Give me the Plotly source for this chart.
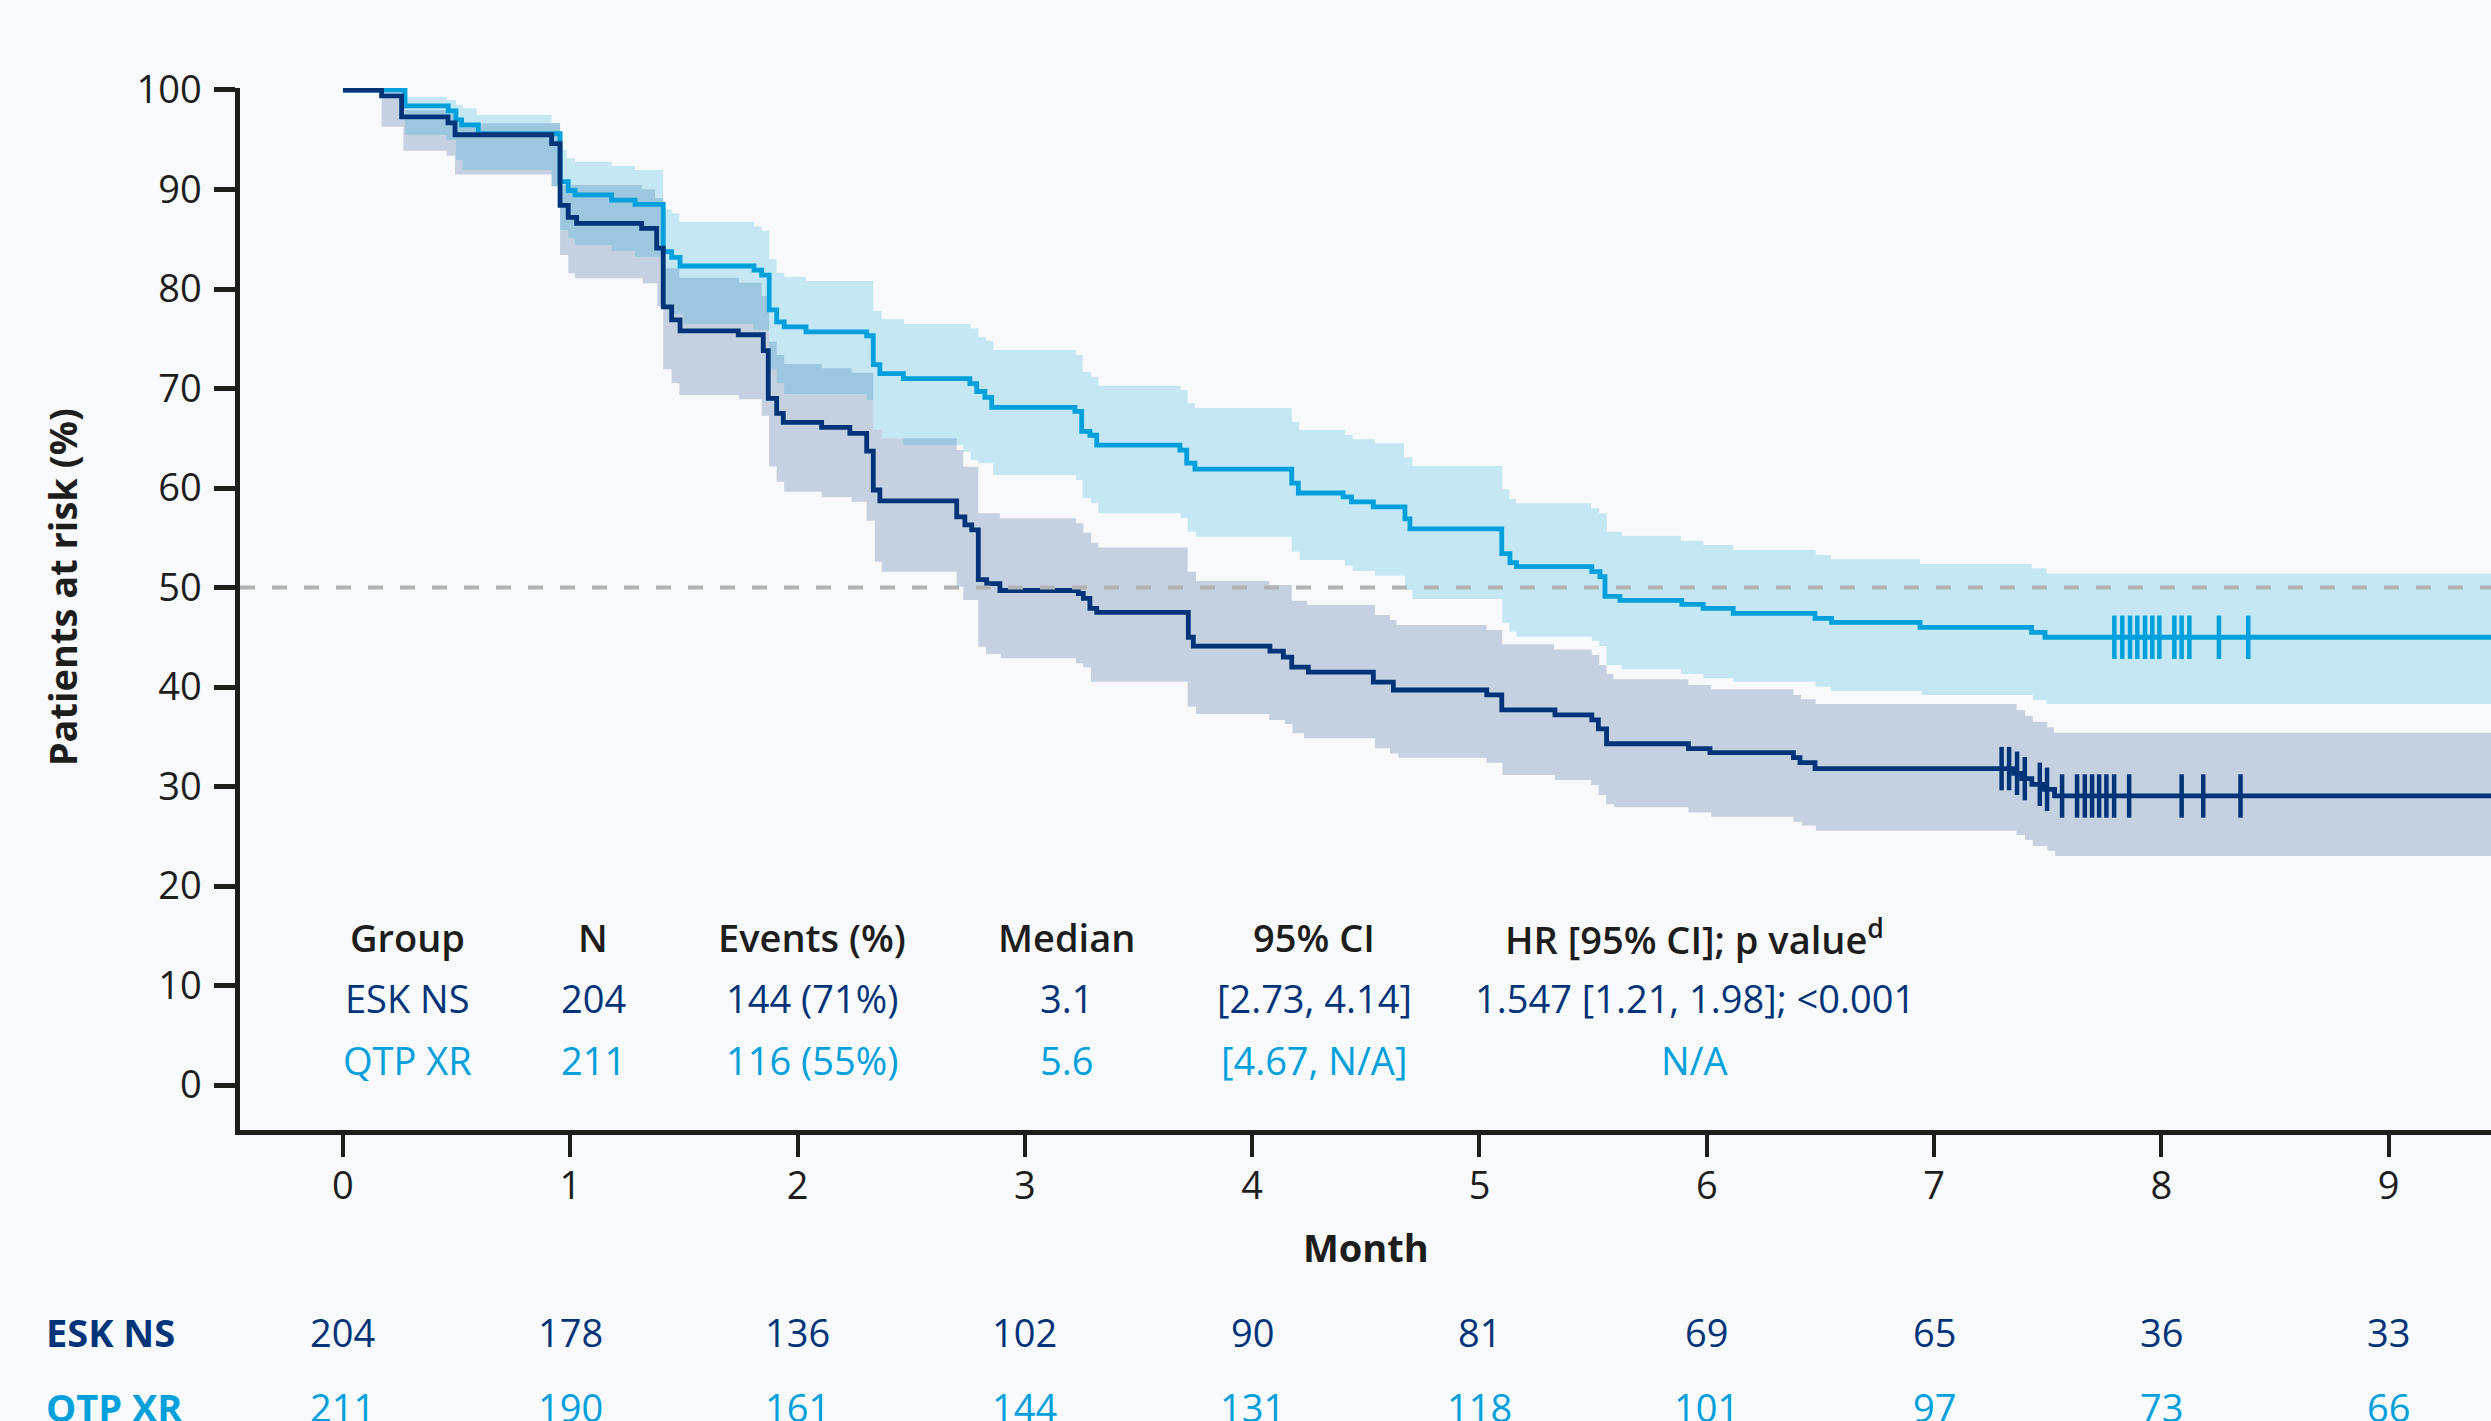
import plotly.graph_objects as go

# ---------------- data ----------------
MONTH_TICKS = list(range(0, 10))
PCT_TICKS = list(range(0, 101, 10))
X_END = 9.6

# Kaplan-Meier step curves (step start month, % at risk)
esk_t = [0, 0.17, 0.258, 0.462, 0.493, 0.918, 0.955, 0.991, 1.028, 1.314, 1.38, 1.409, 1.446, 1.483,
         1.739, 1.849, 1.871, 1.908, 1.937, 2.106, 2.23, 2.304, 2.333, 2.362, 2.70, 2.736, 2.766, 2.795,
         2.832, 2.89, 3.235, 3.257, 3.286, 3.316, 3.719, 3.741, 4.078, 4.137, 4.174, 4.247, 4.533, 4.621,
         5.032, 5.098, 5.332, 5.494, 5.523, 5.559, 5.919, 6.014, 6.381, 6.41, 6.476, 7.35, 7.385, 7.43,
         7.48, 7.53]
esk_s = [100, 99.4, 97.3, 96.7, 95.5, 94.6, 88.4, 87.2, 86.6, 86.1, 84.1, 78.2, 76.9, 75.8,
         75.4, 73.8, 69.0, 67.5, 66.6, 66.1, 65.5, 63.7, 59.8, 58.7, 57.1, 56.3, 55.8, 50.8,
         50.4, 49.7, 49.4, 48.9, 47.9, 47.5, 45.0, 44.1, 43.6, 43.0, 42.0, 41.5, 40.5, 39.7,
         39.2, 37.7, 37.2, 36.7, 35.8, 34.3, 33.8, 33.4, 32.9, 32.4, 31.8, 31.33, 30.79, 30.22,
         29.72, 29.05]

qtp_t = [0, 0.273, 0.463, 0.497, 0.522, 0.595, 0.955, 0.991, 1.021, 1.182, 1.285, 1.409, 1.446, 1.483,
         1.808, 1.842, 1.875, 1.908, 1.941, 2.037, 2.304, 2.333, 2.362, 2.465, 2.758, 2.788, 2.824,
         2.854, 3.22, 3.25, 3.286, 3.316, 3.682, 3.712, 3.748, 4.174, 4.203, 4.4, 4.437, 4.533, 4.672,
         4.694, 5.098, 5.134, 5.163, 5.494, 5.53, 5.552, 5.618, 5.89, 5.984, 6.116, 6.476, 6.549,
         6.938, 7.429, 7.488]
qtp_s = [100, 98.4, 97.9, 97.0, 96.5, 95.6, 90.8, 89.9, 89.45, 88.94, 88.5, 83.75, 83.18, 82.31,
         81.9, 81.4, 77.9, 76.7, 76.2, 75.7, 75.3, 72.4, 71.5, 71.0, 70.5, 69.7, 69.1,
         68.1, 67.7, 65.7, 65.3, 64.3, 63.8, 62.5, 61.9, 60.5, 59.5, 59.1, 58.6, 58.1, 56.9,
         55.9, 53.4, 52.5, 52.1, 51.6, 51.1, 49.1, 48.7, 48.3, 47.9, 47.4, 46.9, 46.5,
         46.0, 45.5, 45.0]

# 95% confidence bands (step start month, bound %)
esk_hi_t = [0.170, 0.273, 0.456, 0.497, 0.955, 1.314, 1.373, 1.409, 1.480, 1.742, 1.842, 1.875, 1.908,
            1.941, 2.106, 2.238, 2.333, 2.370, 2.7, 2.729, 2.795, 2.890, 3.225, 3.257, 3.291, 3.323,
            3.716, 3.753, 4.075, 4.174, 4.242, 4.540, 4.606, 4.635, 5.031, 5.100, 5.328, 5.494, 5.527,
            5.559, 5.589, 5.919, 6.019, 6.381, 6.414, 6.479, 7.363, 7.400, 7.434, 7.498, 7.527]
esk_hi = [99.6, 97.99, 97.65, 96.65, 90.45, 90.02, 89.11, 82.08, 81.14, 80.64, 79.3, 74.71, 73.37,
          72.46, 72.03, 71.59, 65.83, 64.99, 63.82, 62.14, 57.46, 56.95, 56.45, 55.51, 54.5, 54.03,
          51.59, 50.65, 50.25, 48.68, 48.24, 47.24, 46.73, 46.23, 45.73, 44.29, 43.78, 43.22, 42.21,
          41.31, 40.77, 40.2, 39.77, 39.2, 38.76, 38.29, 37.69, 37.12, 36.52, 35.95, 35.41]
esk_lo_t = [0.170, 0.266, 0.456, 0.493, 0.918, 0.955, 0.991, 1.021, 1.318, 1.383, 1.409, 1.446, 1.480,
            1.742, 1.842, 1.875, 1.908, 1.941, 2.106, 2.238, 2.304, 2.340, 2.370, 2.7, 2.729, 2.795,
            2.829, 2.894, 3.225, 3.257, 3.291, 3.716, 3.753, 4.075, 4.144, 4.178, 4.228, 4.540, 4.606,
            4.643, 5.031, 5.101, 5.332, 5.491, 5.524, 5.557, 5.593, 5.919, 6.019, 6.381, 6.418, 6.480,
            7.363, 7.400, 7.434, 7.498, 7.533]
esk_lo = [96.3, 93.9, 93.4, 91.5, 90.3, 83.42, 81.58, 81.07, 80.57, 78.29, 71.93, 70.52, 69.35,
          68.91, 67.27, 62.15, 60.64, 59.63, 59.06, 58.63, 56.72, 52.6, 51.59, 50.08, 48.74, 44.05,
          43.32, 42.88, 42.38, 41.98, 40.54, 38.02, 37.29, 36.68, 36.28, 35.35, 34.84, 33.84, 33.33,
          32.9, 32.4, 31.16, 30.65, 30.15, 29.15, 28.21, 27.91, 27.4, 26.97, 26.47, 26.07, 25.56,
          25.13, 24.62, 24.02, 23.55, 23.02]

qtp_hi_t = [0.273, 0.456, 0.497, 0.527, 0.588, 0.918, 0.955, 0.984, 1.021, 1.182, 1.285, 1.409, 1.446,
            1.480, 1.808, 1.842, 1.875, 1.908, 1.941, 2.037, 2.333, 2.370, 2.468, 2.761, 2.795, 2.829,
            2.861, 3.225, 3.254, 3.291, 3.323, 3.685, 3.716, 3.748, 4.174, 4.207, 4.408, 4.442, 4.540,
            4.668, 4.705, 5.100, 5.131, 5.161, 5.491, 5.527, 5.560, 5.626, 5.886, 5.985, 6.117, 6.479,
            6.546, 6.938, 7.429, 7.495]
qtp_hi = [99.33, 98.99, 98.49, 98.16, 97.49, 96.72, 93.97, 93.13, 92.8, 92.36, 91.96, 88.0, 87.6,
          86.77, 86.27, 85.86, 82.98, 81.64, 81.24, 80.8, 77.79, 76.95, 76.48, 76.05, 75.14, 74.81,
          73.87, 73.37, 71.69, 71.19, 70.28, 69.85, 68.51, 68.04, 66.67, 65.83, 65.33, 64.89, 64.49,
          63.08, 62.21, 59.87, 58.89, 58.46, 57.96, 57.46, 55.61, 55.21, 54.71, 54.27, 53.77, 53.27,
          52.83, 52.36, 51.93, 51.42]
qtp_lo_t = [0.273, 0.456, 0.497, 0.527, 0.918, 0.955, 0.991, 1.021, 1.182, 1.285, 1.409, 1.446, 1.497,
            1.805, 1.875, 1.908, 1.941, 2.304, 2.333, 2.370, 2.465, 2.729, 2.761, 2.795, 2.861, 3.225,
            3.254, 3.291, 3.323, 3.685, 3.716, 3.753, 4.174, 4.210, 4.408, 4.442, 4.540, 4.672, 4.705,
            5.100, 5.131, 5.163, 5.494, 5.527, 5.559, 5.625, 5.886, 5.985, 6.117, 6.479, 6.546, 6.945,
            7.434, 7.495]
qtp_lo = [95.48, 94.97, 92.96, 91.96, 90.35, 85.93, 85.09, 84.42, 83.82, 83.25, 77.96, 77.49, 76.48,
          75.88, 71.93, 70.52, 69.45, 68.84, 65.83, 64.99, 64.32, 63.65, 62.81, 62.48, 61.31, 60.8,
          58.96, 58.46, 57.46, 56.95, 55.61, 55.11, 53.6, 52.76, 52.19, 51.66, 51.19, 49.75, 48.84,
          46.47, 45.56, 45.06, 44.66, 44.12, 42.21, 41.78, 41.31, 40.87, 40.54, 40.03, 39.6, 39.2,
          38.69, 38.29]

# censored observations (months)
esk_censor = [7.297, 7.330, 7.365, 7.399, 7.465, 7.497, 7.563, 7.629, 7.663, 7.695, 7.726, 7.758,
              7.792, 7.858, 8.089, 8.184, 8.348]
qtp_censor = [7.793, 7.828, 7.862, 7.894, 7.928, 7.960, 7.991, 8.057, 8.089, 8.123, 8.253, 8.382]

# summary table
groups = ["ESK NS", "QTP XR"]
group_n = ["204", "211"]
group_events = ["144 (71%)", "116 (55%)"]
group_median = ["3.1", "5.6"]
group_ci = ["[2.73, 4.14]", "[4.67, N/A]"]
group_hr = ["1.547 [1.21, 1.98]; <0.001", "N/A"]
table_header = ["Group", "N", "Events (%)", "Median", "95% CI", "HR [95% CI]; p value<sup>d</sup>"]

# numbers at risk
risk_months = list(range(0, 10))
esk_risk = [204, 178, 136, 102, 90, 81, 69, 65, 36, 33]
qtp_risk = [211, 190, 161, 144, 131, 118, 101, 97, 73, 66]

# ---------------- style ----------------
NAVY = "#003478"
LIGHT = "#00A0DC"
NAVY_FILL = "rgba(0,52,120,0.2)"
LIGHT_FILL = "rgba(0,160,220,0.2)"
INK = "#1D1D1B"
BG = "#F7F9FB"
FONT = "Open Sans"
FS = 38
LW = 4.8


def expand(t, s, t_end):
    xs, ys = [], []
    for i in range(len(t)):
        nxt = t[i + 1] if i + 1 < len(t) else t_end
        xs += [t[i], nxt]
        ys += [s[i], s[i]]
    return xs, ys


def value_at(t, s, x):
    v = s[0]
    for ti, si in zip(t, s):
        if ti <= x:
            v = si
    return v


def band(t_hi, hi, t_lo, lo):
    ux, uy = expand(t_hi, hi, X_END)
    lx, ly = expand(t_lo, lo, X_END)
    return ux + lx[::-1], uy + ly[::-1]


fig = go.Figure()

bx, by = band(esk_hi_t, esk_hi, esk_lo_t, esk_lo)
fig.add_trace(go.Scatter(x=bx, y=by, fill="toself", fillcolor=NAVY_FILL, mode="lines",
                         line=dict(width=0), hoverinfo="skip", showlegend=False))
bx, by = band(qtp_hi_t, qtp_hi, qtp_lo_t, qtp_lo)
fig.add_trace(go.Scatter(x=bx, y=by, fill="toself", fillcolor=LIGHT_FILL, mode="lines",
                         line=dict(width=0), hoverinfo="skip", showlegend=False))

x, y = expand(qtp_t, qtp_s, X_END)
fig.add_trace(go.Scatter(x=x, y=y, mode="lines", line=dict(color=LIGHT, width=LW), showlegend=False))
x, y = expand(esk_t, esk_s, X_END)
fig.add_trace(go.Scatter(x=x, y=y, mode="lines", line=dict(color=NAVY, width=LW), showlegend=False))

fig.add_trace(go.Scatter(x=qtp_censor, y=[value_at(qtp_t, qtp_s, c) for c in qtp_censor], mode="markers",
                         marker=dict(symbol="line-ns", size=31, line=dict(color=LIGHT, width=4.5)),
                         showlegend=False))
fig.add_trace(go.Scatter(x=esk_censor, y=[value_at(esk_t, esk_s, c) for c in esk_censor], mode="markers",
                         marker=dict(symbol="line-ns", size=31, line=dict(color=NAVY, width=4.5)),
                         showlegend=False))

# median reference line
fig.add_shape(type="line", xref="paper", x0=0, x1=1, yref="y", y0=50, y1=50,
              line=dict(color="#B2B2B2", width=4, dash="15px,17px"), layer="above")

annotations = []
# summary table
col_x = [0.286, 1.10, 2.063, 3.185, 4.272, 5.948]
row_y = [14.85, 8.74, 2.51]
for cx, txt in zip(col_x, table_header):
    annotations.append(dict(x=cx, y=row_y[0], xref="x", yref="y", text=txt, showarrow=False,
                            xanchor="center", yanchor="middle",
                            font=dict(family=FONT, size=FS, color=INK, weight=600)))
for r, color in enumerate([NAVY, LIGHT]):
    cells = [groups[r], group_n[r], group_events[r], group_median[r], group_ci[r], group_hr[r]]
    for cx, txt in zip(col_x, cells):
        annotations.append(dict(x=cx, y=row_y[r + 1], xref="x", yref="y", text=txt, showarrow=False,
                                xanchor="center", yanchor="middle",
                                font=dict(family=FONT, size=FS, color=color)))

# axis titles
annotations.append(dict(x=-0.079, y=0.521, xref="paper", yref="paper", text="Patients at risk (%)",
                        textangle=-90, showarrow=False, xanchor="center", yanchor="middle",
                        font=dict(family=FONT, size=FS, color=INK, weight=700)))
annotations.append(dict(x=0.5, y=-0.112, xref="paper", yref="paper", text="Month", showarrow=False,
                        xanchor="center", yanchor="middle",
                        font=dict(family=FONT, size=FS, color=INK, weight=700)))

# numbers at risk
for name, vals, color, py in [("ESK NS", esk_risk, NAVY, -0.1935), ("QTP XR", qtp_risk, LIGHT, -0.2654)]:
    annotations.append(dict(x=-0.0870, y=py, xref="paper", yref="paper", text=name, xanchor="left",
                            yanchor="middle", showarrow=False,
                            font=dict(family=FONT, size=FS, color=color, weight=700)))
    for m, v in zip(risk_months, vals):
        annotations.append(dict(x=m, y=py, xref="x", yref="paper", text=str(v), showarrow=False,
                                xanchor="center", yanchor="middle",
                                font=dict(family=FONT, size=FS, color=color)))

fig.update_layout(
    width=2491, height=1421, autosize=False,
    margin=dict(l=240, r=0, t=88, b=291, pad=0),
    paper_bgcolor=BG, plot_bgcolor=BG,
    showlegend=False,
    annotations=annotations,
    xaxis=dict(range=[-0.453, 9.45], tickvals=MONTH_TICKS, ticks="outside", ticklen=22, tickwidth=4,
               tickcolor=INK, showline=True, linewidth=4.5, linecolor=INK, showgrid=False,
               zeroline=False, tickfont=dict(family=FONT, size=FS, color=INK), ticklabelstandoff=-3),
    yaxis=dict(range=[-4.52, 100.2], tickvals=PCT_TICKS, ticks="outside", ticklen=21, tickwidth=4.5,
               tickcolor=INK, showline=True, linewidth=4.5, linecolor=INK, showgrid=False,
               zeroline=False, tickfont=dict(family=FONT, size=FS, color=INK), ticklabelstandoff=5),
)

fig.write_html("out.html", config={"displayModeBar": False},
               post_script="document.body.style.margin='0';document.body.style.padding='0';"
                           "document.body.style.background='" + BG + "';"
                           "document.documentElement.style.overflow='hidden';")
